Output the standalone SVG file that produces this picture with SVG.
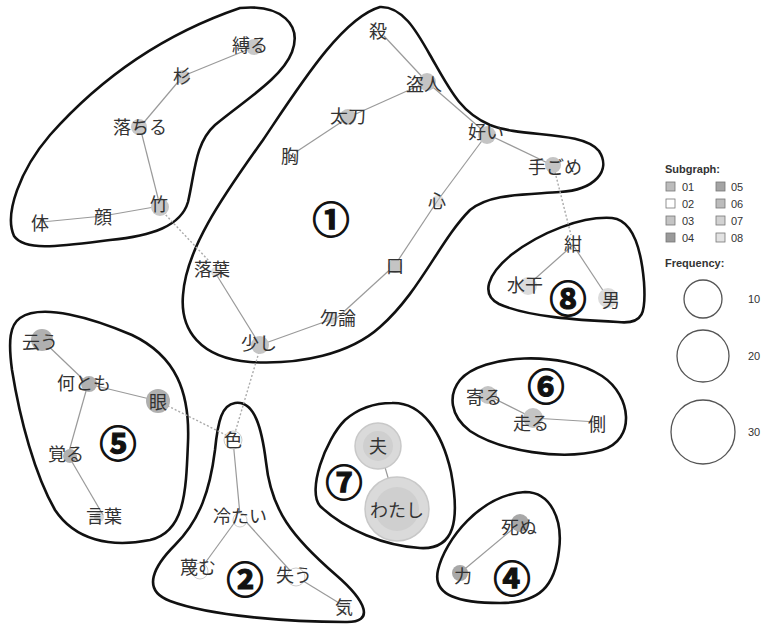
<svg xmlns="http://www.w3.org/2000/svg" width="765" height="626" viewBox="0 0 765 626">
<style>
.hull{fill:none;stroke:#111;stroke-width:2.6}
.e{stroke:#9a9a9a;stroke-width:1.2;fill:none}
.d{stroke:#aaa;stroke-width:1.4;fill:none;stroke-dasharray:2 2}
.t{font-family:"Noto Sans CJK JP","Noto Sans",sans-serif;font-size:18px;fill:#333;text-anchor:middle;dominant-baseline:central}
.n{font-family:"Noto Sans CJK JP","Noto Sans",sans-serif;font-size:37px;font-weight:bold;fill:#111;stroke:#111;stroke-width:1.2;text-anchor:middle;dominant-baseline:central}
.c1{fill:#c4c4c4}.c2{fill:#fff;stroke:#ccc}.c3{fill:#c8c8c8}.c4{fill:#a8a8a8}.c5{fill:#b0b0b0}.c6{fill:#c4c4c4}.c7{fill:#d8d8d8}.c8{fill:#dcdcdc}
.lg{font-family:"Liberation Sans",Arial,sans-serif;font-size:11px;fill:#333}
.lgb{font-family:"Liberation Sans",Arial,sans-serif;font-size:11px;font-weight:bold;fill:#333}
.sq{stroke:#777;stroke-width:0.8}
.fc{fill:none;stroke:#555;stroke-width:1.3}
</style>
<g id="hulls">
<path class="hull" d="M 240,8 C 282,4 302,25 292,52 C 282,78 245,100 215,125 C 195,143 195,172 188,202 C 181,226 152,236 110,240 C 62,246 25,252 14,236 C 4,214 20,170 50,135 C 90,90 152,38 240,8 Z"/>
<path class="hull" d="M 380,7 C 402,6 416,30 430,55 C 450,90 460,112 490,125 C 522,138 582,130 599,151 C 612,171 594,190 560,192 C 520,195 490,194 470,210 C 440,240 420,292 380,327 C 350,354 300,365 250,362 C 200,358 180,330 183,295 C 186,250 220,200 263,140 C 300,85 342,18 380,7 Z"/>
<path class="hull" d="M 612,218 C 632,220 641,247 644,282 C 646,312 644,325 618,322 C 578,320 528,317 499,304 C 480,294 488,274 511,255 C 541,232 582,216 612,218 Z"/>
<path class="hull" d="M 20,318 C 42,303 92,318 132,335 C 176,356 190,392 188,442 C 186,492 185,532 150,540 C 110,548 75,540 55,510 C 35,475 20,420 12,370 C 8,340 10,325 20,318 Z"/>
<path class="hull" d="M 235,403 C 255,400 262,430 266,462 C 271,510 292,537 336,575 C 366,601 376,623 345,622 C 290,622 210,616 170,601 C 140,590 155,565 175,545 C 200,520 210,490 215,450 C 218,420 222,405 235,403 Z"/>
<path class="hull" d="M 392,403 C 422,402 442,432 451,472 C 460,520 455,550 420,548 C 385,546 345,530 320,506 C 307,491 325,440 345,420 C 360,407 376,403 392,403 Z"/>
<path class="hull" d="M 460,380 C 482,354 562,350 602,376 C 632,396 636,440 602,450 C 562,461 500,451 470,431 C 450,416 448,395 460,380 Z"/>
<path class="hull" d="M 525,492 C 551,492 563,520 559,550 C 555,586 540,603 500,603 C 460,603 432,596 438,570 C 445,540 480,495 525,492 Z"/>
</g>
<g id="connectors">
<line class="e" x1="254" y1="47" x2="183" y2="76"/>
<line class="e" x1="183" y1="76" x2="140" y2="127"/>
<line class="e" x1="140" y1="127" x2="160" y2="206"/>
<line class="e" x1="160" y1="206" x2="103" y2="216"/>
<line class="e" x1="103" y1="216" x2="42" y2="222"/>
<line class="d" x1="163" y1="212" x2="210" y2="262"/>
<line class="e" x1="384" y1="36" x2="427" y2="82"/>
<line class="e" x1="427" y1="82" x2="349" y2="117"/>
<line class="e" x1="349" y1="117" x2="296" y2="152"/>
<line class="e" x1="427" y1="82" x2="487" y2="134"/>
<line class="e" x1="487" y1="134" x2="554" y2="166"/>
<line class="e" x1="487" y1="134" x2="438" y2="200"/>
<line class="e" x1="438" y1="200" x2="395" y2="265"/>
<line class="e" x1="395" y1="265" x2="338" y2="317"/>
<line class="e" x1="338" y1="317" x2="260" y2="345"/>
<line class="e" x1="260" y1="345" x2="216" y2="274"/>
<line class="d" x1="555" y1="172" x2="571" y2="235"/>
<line class="e" x1="573" y1="245" x2="528" y2="285"/>
<line class="e" x1="573" y1="245" x2="608" y2="298"/>
<line class="e" x1="42" y1="340" x2="88" y2="384"/>
<line class="e" x1="88" y1="384" x2="158" y2="401"/>
<line class="e" x1="88" y1="384" x2="68" y2="455"/>
<line class="e" x1="68" y1="455" x2="103" y2="515"/>
<line class="d" x1="164" y1="404" x2="230" y2="437"/>
<line class="d" x1="259" y1="352" x2="234" y2="436"/>
<line class="e" x1="233" y1="440" x2="240" y2="515"/>
<line class="e" x1="240" y1="515" x2="200" y2="570"/>
<line class="e" x1="240" y1="515" x2="295" y2="576"/>
<line class="e" x1="295" y1="576" x2="344" y2="606"/>
<line class="e" x1="379" y1="447" x2="397" y2="508"/>
<line class="e" x1="487" y1="395" x2="533" y2="418"/>
<line class="e" x1="533" y1="418" x2="597" y2="422"/>
<line class="e" x1="520" y1="523" x2="460" y2="573"/>
</g>
<g id="n-shibaru"><circle class="c3" cx="254" cy="47" r="8"/><text class="t" x="250" y="44">縛る</text></g>
<g id="n-sugi"><circle class="c3" cx="183" cy="77" r="7"/><text class="t" x="182" y="75">杉</text></g>
<g id="n-ochiru"><circle class="c3" cx="139" cy="127" r="8"/><text class="t" x="140" y="126">落ちる</text></g>
<g id="n-take"><circle class="c3" cx="160" cy="207" r="9"/><text class="t" x="159" y="203">竹</text></g>
<g id="n-kao"><text class="t" x="103" y="216">顔</text></g>
<g id="n-karada"><text class="t" x="40" y="222">体</text></g>
<g id="n-korosu"><text class="t" x="378" y="30">殺</text></g>
<g id="n-nusubito"><circle class="c1" cx="427" cy="82" r="9"/><text class="t" x="424" y="83">盗人</text></g>
<g id="n-tachi"><circle class="c1" cx="348" cy="117" r="8"/><text class="t" x="348" y="115">太刀</text></g>
<g id="n-mune"><text class="t" x="290" y="155">胸</text></g>
<g id="n-yoi"><circle class="c1" cx="487" cy="135" r="9"/><text class="t" x="486" y="131">好い</text></g>
<g id="n-tegome"><circle class="c1" cx="553" cy="165" r="8"/><text class="t" x="555" y="166">手ごめ</text></g>
<g id="n-kokoro"><circle class="c1" cx="438" cy="201" r="6" opacity="0.5"/><text class="t" x="437" y="200">心</text></g>
<g id="n-kuchi"><circle class="c1" cx="395" cy="266" r="7"/><text class="t" x="395" y="265">口</text></g>
<g id="n-mochiron"><circle class="c1" cx="332" cy="318" r="6" opacity="0.6"/><text class="t" x="338" y="317">勿論</text></g>
<g id="n-sukoshi"><circle class="c1" cx="260" cy="345" r="9"/><text class="t" x="259" y="342">少し</text></g>
<g id="n-ochiba"><circle class="c1" cx="216" cy="272" r="5" opacity="0.5"/><text class="t" x="212" y="268">落葉</text></g>
<g id="n-1"><text class="n" x="331" y="218">①</text></g>
<g id="n-kon"><text class="t" x="573" y="243">紺</text></g>
<g id="n-suikan"><circle class="c8" cx="528" cy="286" r="9"/><text class="t" x="525" y="284">水干</text></g>
<g id="n-otoko"><circle class="c8" cx="608" cy="298" r="10"/><text class="t" x="611" y="299">男</text></g>
<g id="n-8"><text class="n" x="568" y="297">⑧</text></g>
<g id="n-iu"><circle class="c5" cx="42" cy="340" r="11"/><text class="t" x="40" y="341">云う</text></g>
<g id="n-nantomo"><circle class="c5" cx="89" cy="384" r="8"/><text class="t" x="84" y="382">何とも</text></g>
<g id="n-me"><circle class="c5" cx="158" cy="401" r="12"/><text class="t" x="158" y="401">眼</text></g>
<g id="n-satoru"><circle class="c5" cx="70" cy="456" r="7"/><text class="t" x="66" y="453">覚る</text></g>
<g id="n-kotoba"><circle class="c5" cx="99" cy="517" r="5" opacity="0.5"/><text class="t" x="104" y="515">言葉</text></g>
<g id="n-5"><text class="n" x="118" y="442">⑤</text></g>
<g id="n-iro"><circle class="c2" cx="233" cy="440" r="9"/><text class="t" x="233" y="439">色</text></g>
<g id="n-tsumetai"><circle class="c2" cx="240" cy="520" r="7"/><text class="t" x="240" y="515">冷たい</text></g>
<g id="n-sagesumu"><circle class="c2" cx="200" cy="571" r="8"/><text class="t" x="198" y="566">蔑む</text></g>
<g id="n-ushinau"><circle class="c2" cx="296" cy="577" r="9"/><text class="t" x="294" y="574">失う</text></g>
<g id="n-ki"><circle class="c2" cx="344" cy="607" r="6"/><text class="t" x="344" y="606">気</text></g>
<g id="n-2"><text class="n" x="245" y="578">②</text></g>
<g id="n-otto"><circle cx="378" cy="446" r="23" fill="#dadada" stroke="#c8c8c8" stroke-width="1.5"/><circle cx="378" cy="446" r="15" fill="#cfcfcf"/><text class="t" x="378" y="445">夫</text></g>
<g id="n-watashi"><circle cx="397" cy="509" r="32" fill="#dadada" stroke="#c8c8c8" stroke-width="1.5"/><circle cx="397" cy="509" r="22" fill="#cfcfcf"/><text class="t" x="397" y="509">わたし</text></g>
<g id="n-7"><text class="n" x="344" y="481">⑦</text></g>
<g id="n-yoru"><circle class="c6" cx="488" cy="395" r="9"/><text class="t" x="484" y="396">寄る</text></g>
<g id="n-hashiru"><circle class="c6" cx="533" cy="418" r="10"/><text class="t" x="531" y="422">走る</text></g>
<g id="n-gawa"><text class="t" x="597" y="423">側</text></g>
<g id="n-6"><text class="n" x="546" y="385">⑥</text></g>
<g id="n-shinu"><circle class="c4" cx="520" cy="523" r="9"/><text class="t" x="519" y="526">死ぬ</text></g>
<g id="n-chikara"><circle class="c4" cx="460" cy="573" r="8"/><text class="t" x="463" y="575">力</text></g>
<g id="n-4"><text class="n" x="512" y="577">④</text></g>
<g id="legend">
<text class="lgb" x="665" y="173">Subgraph:</text>
<rect class="sq" x="666" y="182" width="9" height="9" fill="#bcbcbc"/><text class="lg" x="682" y="191">01</text>
<rect class="sq" x="666" y="199" width="9" height="9" fill="#fff"/><text class="lg" x="682" y="208">02</text>
<rect class="sq" x="666" y="216" width="9" height="9" fill="#c4c4c4"/><text class="lg" x="682" y="225">03</text>
<rect class="sq" x="666" y="233" width="9" height="9" fill="#9a9a9a"/><text class="lg" x="682" y="242">04</text>
<rect class="sq" x="716" y="182" width="9" height="9" fill="#a4a4a4"/><text class="lg" x="731" y="191">05</text>
<rect class="sq" x="716" y="199" width="9" height="9" fill="#bcbcbc"/><text class="lg" x="731" y="208">06</text>
<rect class="sq" x="716" y="216" width="9" height="9" fill="#d2d2d2"/><text class="lg" x="731" y="225">07</text>
<rect class="sq" x="716" y="233" width="9" height="9" fill="#e2e2e2"/><text class="lg" x="731" y="242">08</text>
<text class="lgb" x="665" y="267">Frequency:</text>
<circle class="fc" cx="703" cy="299" r="19"/><text class="lg" x="748" y="303">10</text>
<circle class="fc" cx="703" cy="356" r="26"/><text class="lg" x="748" y="360">20</text>
<circle class="fc" cx="703" cy="432" r="32"/><text class="lg" x="748" y="436">30</text>
</g>
</svg>
